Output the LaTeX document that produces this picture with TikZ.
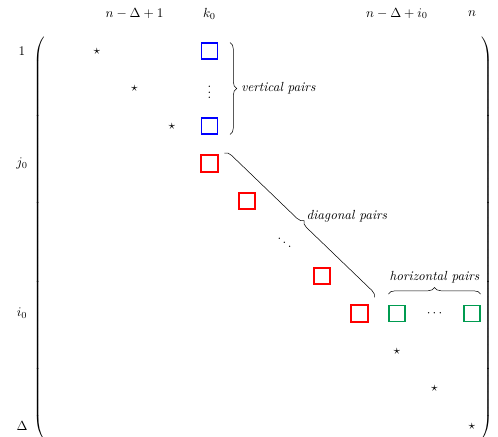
\documentclass[tikz,border=0pt]{standalone}
\usetikzlibrary{matrix,decorations.pathreplacing}
\definecolor{pairgreen}{RGB}{0,155,80}
\definecolor{pairred}{RGB}{255,0,0}
\definecolor{pairblue}{RGB}{0,0,255}

\tikzset{
    pairbox/.style={draw=#1,line width=1pt,minimum size=0.42cm,inner sep=0pt},
    pairline/.style={draw=#1,line width=1pt},
    pairbrace/.style={decorate,decoration={brace,amplitude=5pt}},
    pairlabel/.style={font=\itshape}
}

\begin{document}
\begin{tikzpicture}[x=1cm,y=-1cm]
    \useasboundingbox (-2.587,-1.36) rectangle (10.693,10.267);
    \node[minimum width=11.55cm,minimum height=10.8cm,left delimiter=(,right delimiter=)] (M) at (4.44,5) {};
    \node (c1) at (1,-1) {$n-\Delta+1$};
    \node (ck) at (3,-1) {$k_0$};
    \node (ci) at (8,-1) {$n-\Delta+i_0$};
    \node (cn) at (10,-1) {$n$};
    \node (r1) at (-2,0) {$1$};
    \node (rj) at (-2,3) {$j_0$};
    \node (ri) at (-2,7) {$i_0$};
    \node (rd) at (-2,10) {$\Delta$};
    \node (s1) at (0,0) {$\star$};
    \node (s2) at (1,1) {$\star$};
    \node (s3) at (2,2) {$\star$};
    \node (s4) at (8,8) {$\star$};
    \node (s5) at (9,9) {$\star$};
    \node (s6) at (10,10) {$\star$};
    \node[pairbox=pairblue] (vt) at (3,0) {};
    \node (vdots) at (3,1) {$\vdots$};
    \node[pairbox=pairblue] (vb) at (3,2) {};
    \node[pairbox=pairred] (dga) at (3,3) {};
    \node[pairbox=pairred] (dgb) at (4,4) {};
    \node (ddots) at (5,5) {$\ddots$};
    \node[pairbox=pairred] (dgc) at (6,6) {};
    \node[pairbox=pairred] (dgd) at (7,7) {};
    \node[pairbox=pairgreen] (hl) at (8,7) {};
    \node (cdots) at (9,7) {$\cdots$};
    \node[pairbox=pairgreen] (hr) at (10,7) {};
    \draw[pairbrace] ([xshift=0.32cm]vt.north east) -- ([xshift=0.32cm]vb.south east)
        node[pairlabel,midway,anchor=west,xshift=5pt] (vtext) {vertical pairs};
    \draw[pairbrace] ([xshift=0.17cm,yshift=0.05cm]dga.north east) -- ([xshift=0.17cm,yshift=0.2cm]dgd.north east)
        node[pairlabel,midway,anchor=west,xshift=0.07cm,yshift=0.25cm] (dtext) {diagonal pairs};
    \draw[pairbrace] ([yshift=0.29cm]hl.north west) -- ([yshift=0.29cm]hr.north east)
        node[pairlabel,midway,above=5pt] (htext) {horizontal pairs};
    \foreach \n in {dga,dgd}
        \draw[pairline=pairred] (\n.south west) rectangle (\n.north east);
\end{tikzpicture}
\end{document}
